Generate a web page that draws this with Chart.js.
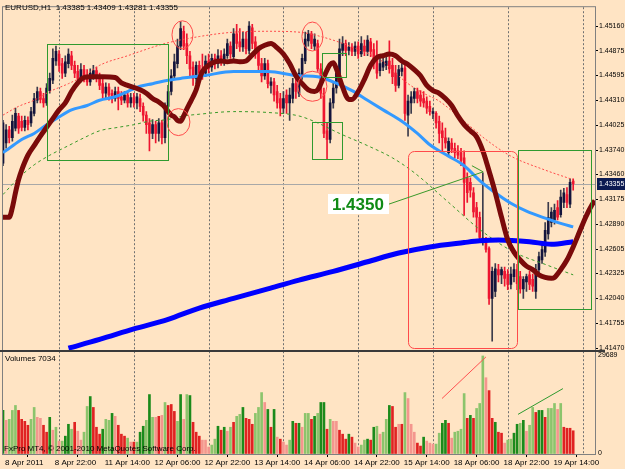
<!DOCTYPE html>
<html>
<head>
<meta charset="utf-8">
<title>EURUSD,H1</title>
<script src="https://cdn.jsdelivr.net/npm/chart.js"></script>
<style>
  html, body { margin: 0; padding: 0; background: #ffe4c4; }
</style>
</head>
<body>
<canvas id="chart" width="625" height="469"></canvas>
<script>
// H1 bars from 8 Apr 2011 06:00, one row per bar: [open, high, low, close]
const bars8Apr = [
  [1.4359,1.4408,1.4356,1.4405],[1.4382,1.4403,1.4376,1.4397],[1.4397,1.4401,1.4382,1.4388],
  [1.4388,1.4414,1.4384,1.4407],[1.4399,1.4422,1.4396,1.4416],[1.4413,1.4416,1.4393,1.4399],
  [1.4407,1.4413,1.4396,1.4400],[1.4400,1.4413,1.4396,1.4408],[1.4408,1.4412,1.4397,1.4403],
  [1.4405,1.4423,1.4401,1.4418],[1.4416,1.4439,1.4413,1.4433],[1.4431,1.4446,1.4428,1.4441],
  [1.4441,1.4445,1.4428,1.4432],[1.4433,1.4439,1.4423,1.4428],[1.4428,1.4450,1.4425,1.4445],
  [1.4442,1.4462,1.4439,1.4456],[1.4454,1.4490,1.4450,1.4479],[1.4476,1.4493,1.4471,1.4487]
];
const bars11Apr = [
  [1.4484,1.4488,1.4464,1.4471],[1.4473,1.4479,1.4456,1.4462],[1.4462,1.4482,1.4458,1.4475],
  [1.4473,1.4490,1.4468,1.4484],[1.4482,1.4487,1.4466,1.4471],[1.4471,1.4476,1.4457,1.4462],
  [1.4464,1.4471,1.4450,1.4456],[1.4456,1.4473,1.4452,1.4466],[1.4466,1.4471,1.4452,1.4459],
  [1.4459,1.4466,1.4448,1.4452],[1.4452,1.4467,1.4448,1.4462],[1.4459,1.4471,1.4455,1.4465],
  [1.4465,1.4469,1.4452,1.4457],[1.4457,1.4462,1.4443,1.4448],[1.4450,1.4455,1.4433,1.4439],
  [1.4439,1.4451,1.4433,1.4446],[1.4446,1.4450,1.4431,1.4437],[1.4439,1.4443,1.4428,1.4433],
  [1.4433,1.4446,1.4430,1.4441],[1.4441,1.4446,1.4420,1.4433],[1.4435,1.4441,1.4426,1.4431],
  [1.4431,1.4441,1.4428,1.4437],[1.4437,1.4441,1.4423,1.4428],[1.4428,1.4439,1.4423,1.4434]
];
const bars12Apr = [
  [1.4434,1.4439,1.4423,1.4428],[1.4428,1.4439,1.4421,1.4435],[1.4433,1.4438,1.4418,1.4424],
  [1.4424,1.4428,1.4407,1.4414],[1.4414,1.4418,1.4393,1.4403],[1.4405,1.4410,1.4373,1.4393],
  [1.4393,1.4409,1.4387,1.4403],[1.4403,1.4407,1.4382,1.4393],[1.4393,1.4410,1.4384,1.4405],
  [1.4405,1.4408,1.4381,1.4388],[1.4388,1.4428,1.4382,1.4424],[1.4424,1.4448,1.4418,1.4441],
  [1.4441,1.4466,1.4437,1.4459],[1.4459,1.4484,1.4455,1.4475],[1.4473,1.4501,1.4468,1.4493],
  [1.4493,1.4521,1.4489,1.4513],[1.4510,1.4516,1.4489,1.4493],[1.4496,1.4507,1.4473,1.4482],
  [1.4482,1.4487,1.4459,1.4467],[1.4469,1.4475,1.4448,1.4456],[1.4456,1.4475,1.4450,1.4471],
  [1.4471,1.4476,1.4455,1.4462],[1.4466,1.4484,1.4455,1.4459],[1.4462,1.4482,1.4458,1.4476]
];
const bars13Apr = [
  [1.4476,1.4484,1.4462,1.4469],[1.4469,1.4484,1.4464,1.4479],[1.4479,1.4484,1.4467,1.4473],
  [1.4473,1.4489,1.4468,1.4482],[1.4482,1.4488,1.4471,1.4475],[1.4475,1.4490,1.4471,1.4484],
  [1.4482,1.4501,1.4479,1.4496],[1.4493,1.4498,1.4479,1.4484],[1.4481,1.4513,1.4477,1.4507],
  [1.4507,1.4518,1.4490,1.4496],[1.4498,1.4513,1.4487,1.4492],[1.4492,1.4509,1.4487,1.4501],
  [1.4501,1.4509,1.4484,1.4490],[1.4488,1.4521,1.4484,1.4516],[1.4514,1.4518,1.4490,1.4496],
  [1.4498,1.4504,1.4479,1.4484],[1.4487,1.4493,1.4464,1.4471],[1.4473,1.4479,1.4452,1.4459],
  [1.4459,1.4479,1.4455,1.4473],[1.4473,1.4477,1.4445,1.4450],[1.4448,1.4457,1.4439,1.4452],
  [1.4452,1.4456,1.4430,1.4437],[1.4441,1.4448,1.4422,1.4428],[1.4433,1.4439,1.4413,1.4422]
];
const bars14Apr = [
  [1.4422,1.4441,1.4416,1.4433],[1.4437,1.4443,1.4416,1.4428],[1.4428,1.4445,1.4408,1.4437],
  [1.4433,1.4456,1.4428,1.4450],[1.4450,1.4456,1.4433,1.4441],[1.4439,1.4467,1.4435,1.4462],
  [1.4459,1.4484,1.4455,1.4479],[1.4476,1.4509,1.4473,1.4501],[1.4499,1.4511,1.4493,1.4507],
  [1.4507,1.4510,1.4490,1.4496],[1.4493,1.4507,1.4489,1.4501],[1.4496,1.4500,1.4464,1.4467],
  [1.4467,1.4473,1.4433,1.4439],[1.4439,1.4445,1.4388,1.4393],[1.4396,1.4405,1.4363,1.4386],
  [1.4386,1.4433,1.4382,1.4428],[1.4428,1.4452,1.4422,1.4445],[1.4445,1.4469,1.4439,1.4462],
  [1.4459,1.4501,1.4456,1.4490],[1.4488,1.4504,1.4482,1.4496],[1.4496,1.4500,1.4482,1.4488],
  [1.4488,1.4497,1.4483,1.4492],[1.4492,1.4496,1.4482,1.4487],[1.4487,1.4498,1.4482,1.4493]
];
const bars15Apr = [
  [1.4493,1.4498,1.4479,1.4484],[1.4484,1.4504,1.4481,1.4496],[1.4493,1.4500,1.4482,1.4487],
  [1.4487,1.4505,1.4482,1.4500],[1.4498,1.4502,1.4481,1.4487],[1.4489,1.4496,1.4467,1.4476],
  [1.4479,1.4499,1.4456,1.4462],[1.4465,1.4479,1.4459,1.4473],[1.4469,1.4480,1.4465,1.4475],
  [1.4471,1.4482,1.4466,1.4476],[1.4476,1.4499,1.4462,1.4467],[1.4471,1.4479,1.4450,1.4458],
  [1.4462,1.4471,1.4441,1.4448],[1.4448,1.4471,1.4445,1.4466],[1.4464,1.4473,1.4459,1.4468],
  [1.4468,1.4473,1.4408,1.4416],[1.4414,1.4437,1.4390,1.4430],[1.4428,1.4441,1.4416,1.4435],
  [1.4433,1.4445,1.4428,1.4441],[1.4441,1.4445,1.4428,1.4433],[1.4437,1.4442,1.4424,1.4430],
  [1.4433,1.4441,1.4423,1.4428],[1.4430,1.4435,1.4416,1.4422],[1.4424,1.4430,1.4414,1.4418]
];
const bars18Apr = [
  [1.4416,1.4422,1.4410,1.4418],[1.4416,1.4418,1.4399,1.4405],[1.4407,1.4413,1.4382,1.4393],
  [1.4396,1.4405,1.4371,1.4388],[1.4388,1.4399,1.4376,1.4382],[1.4371,1.4388,1.4367,1.4384],
  [1.4382,1.4387,1.4371,1.4375],[1.4376,1.4382,1.4365,1.4371],[1.4373,1.4379,1.4364,1.4368],
  [1.4371,1.4376,1.4356,1.4362],[1.4365,1.4373,1.4299,1.4337],[1.4342,1.4348,1.4314,1.4325],
  [1.4337,1.4342,1.4320,1.4328],[1.4325,1.4331,1.4297,1.4303],[1.4308,1.4314,1.4280,1.4297],
  [1.4297,1.4303,1.4269,1.4274],[1.4269,1.4348,1.4265,1.4273],[1.4269,1.4274,1.4257,1.4260],
  [1.4261,1.4263,1.4197,1.4204],[1.4204,1.4240,1.4155,1.4235],[1.4212,1.4244,1.4206,1.4238],
  [1.4237,1.4243,1.4223,1.4231],[1.4231,1.4240,1.4221,1.4237],[1.4235,1.4240,1.4218,1.4227]
];
const bars19Apr = [
  [1.4232,1.4237,1.4214,1.4220],[1.4220,1.4240,1.4215,1.4232],[1.4229,1.4244,1.4223,1.4237],
  [1.4237,1.4243,1.4214,1.4221],[1.4229,1.4235,1.4210,1.4215],[1.4215,1.4229,1.4204,1.4226],
  [1.4223,1.4232,1.4212,1.4229],[1.4231,1.4235,1.4214,1.4220],[1.4226,1.4232,1.4212,1.4218],
  [1.4212,1.4243,1.4204,1.4237],[1.4237,1.4257,1.4232,1.4252],[1.4248,1.4265,1.4244,1.4260],
  [1.4257,1.4291,1.4252,1.4282],[1.4278,1.4314,1.4272,1.4297],[1.4291,1.4308,1.4286,1.4303],
  [1.4294,1.4312,1.4289,1.4305],[1.4308,1.4316,1.4294,1.4297],[1.4300,1.4328,1.4297,1.4320],
  [1.4314,1.4330,1.4308,1.4325],[1.4323,1.4331,1.4308,1.4314],[1.4312,1.4341,1.4308,1.4337],
  [1.43385,1.43409,1.43281,1.43355]
];

// tick volume per bar, and its colour class (g up, l up weak, r down, p down weak)
const volumes = [
  13200,10200,10500,13200,14700,13200,10500,9900,8700,10500,14100,11100,10800,8700,6600,11100,7200,8100,
  3900,3900,5400,9000,7500,9600,6900,4200,6600,14400,17400,14100,8100,6000,7500,10500,10200,12300,11400,8700,6000,5400,4800,3600,
  3600,3600,6600,8400,10200,18000,11100,11100,11400,11700,15600,14700,15000,12900,9900,18000,10500,18000,17700,9600,6600,5400,4200,4200,
  2100,2700,4500,8400,7200,8100,6900,8100,9600,11400,12000,14100,10800,10500,9000,12300,14100,18600,15600,13500,8100,13500,5100,4500,
  3600,2700,4200,9900,9300,9300,8100,12300,12300,10500,11400,12300,15600,15600,7500,10500,9900,9900,7200,6000,4500,6000,5100,3300,
  2100,2700,4200,4500,4200,8100,8400,6000,6600,10500,14700,14400,8100,9000,9000,18600,16800,9000,6600,3300,2400,5100,3900,3300,
  3000,3000,6300,9300,10200,9300,4800,6600,6900,7500,18300,10800,11700,10800,13800,15300,29689,23100,19200,10800,9600,6600,6300,3300,
  4200,4500,6300,9000,9300,10200,6900,8700,14100,12600,13200,13200,11100,13800,13800,15300,13500,15300,8100,7800,7800,7034
];
const volumeKind =
  'gplllrrrrllpprrgpl' +
  'plgglrppllgrrrgllgprrrlp' +
  'rlgglglprplrrrlgplgrrrpp' +
  'pllgrgplrllgrrrlllpgrgpr' +
  'pplgrgpllrglggrlpprrrgrp' +
  'pllgrglpllgrrprlppprrgpp' +
  'pllggrpllllrgrlllprrgrrp' +
  'llgglgpllrggrlllplrrrr';

// indicator lines: [bar index, price]
const maFast = [
  [0,1.4297],[2,1.4297],[3,1.4308],[4,1.4325],[5,1.4340],[6,1.4351],[8,1.4368],[10,1.4379],
  [12,1.4390],[14,1.4400],[16,1.4410],[18,1.4420],[20,1.4428],[22,1.4441],[24,1.4451],[26,1.4457],
  [28,1.4458],[32,1.4458],[36,1.4457],[38,1.4451],[40,1.4448],[44,1.4443],[46,1.4439],[48,1.4433],
  [50,1.4429],[52,1.4423],[53,1.4418],[54,1.4414],[55,1.4412],[56,1.4408],[57,1.4407],[58,1.4413],
  [59,1.4421],[60,1.4428],[61,1.4435],[62,1.4443],[63,1.4455],[64,1.4464],[66,1.4471],[68,1.4475],
  [70,1.4476],[72,1.4475],[74,1.4476],[76,1.4475],[78,1.4476],[80,1.4483],[82,1.4490],[84,1.4494],
  [86,1.4496],[88,1.4491],[90,1.4484],[92,1.4473],[94,1.4459],[96,1.4450],[98,1.4443],[100,1.4441],
  [101,1.4443],[103,1.4458],[105,1.4472],[106,1.4474],[107,1.4467],[109,1.4446],[111,1.4432],[112,1.4432],
  [114,1.4441],[116,1.4455],[118,1.4471],[120,1.4480],[122,1.4482],[124,1.4484],[126,1.4482],[128,1.4476],
  [130,1.4472],[132,1.4466],[134,1.4459],[136,1.4448],[138,1.4442],[140,1.4439],[142,1.4433],[144,1.4425],
  [146,1.4413],[148,1.4403],[150,1.4396],[152,1.4389],[154,1.4373],[155,1.4362],[156,1.4350],[158,1.4325],
  [160,1.4297],[162,1.4271],[164,1.4257],[166,1.4248],[168,1.4241],[170,1.4237],[172,1.4231],[174,1.4228],
  [176,1.4227],[177,1.4228],[179,1.4237],[181,1.4248],[183,1.4263],[185,1.4280],[187,1.4297],[189,1.4311],
  [190,1.4316]
];
const maMid = [
  [0,1.4371],[2,1.4376],[6,1.4386],[10,1.4393],[14,1.4403],[18,1.4412],[22,1.4420],[27,1.4425],
  [31,1.4431],[36,1.4435],[40,1.4441],[44,1.4447],[48,1.4450],[53,1.4454],[57,1.4456],[61,1.4458],
  [64,1.4459],[74,1.4464],[85,1.4464],[95,1.4459],[101,1.4458],[106,1.4452],[112,1.4442],[117,1.4431],
  [122,1.4420],[128,1.4407],[133,1.4393],[137,1.4380],[143,1.4367],[148,1.4356],[153,1.4339],[158,1.4325],
  [163,1.4313],[168,1.4304],[174,1.4296],[179,1.4290],[183,1.4286]
];
const maSlow = [
  [21,1.4147],[31,1.4157],[42,1.4169],[53,1.4180],[63,1.4193],[74,1.4204],[85,1.4215],[95,1.4225],
  [106,1.4235],[117,1.4246],[127,1.4256],[137,1.4263],[148,1.4268],[153,1.4270],[159,1.4271],
  [169,1.4269],[176,1.4266],[183,1.4269]
];
const envUpper = [
  [0,1.4414],[5,1.4424],[10,1.4431],[15,1.4441],[21,1.4450],[26,1.4459],[31,1.4471],[40,1.4482],
  [52,1.4496],[63,1.4504],[74,1.4509],[85,1.4510],[95,1.4509],[102,1.4504],[112,1.4492],[122,1.4475],
  [126,1.4462],[130,1.4450],[135,1.4439],[140,1.4430],[145,1.4416],[150,1.4401],[155,1.4386],
  [163,1.4367],[174,1.4351],[183,1.4340]
];
const envLower = [
  [0,1.4323],[5,1.4342],[10,1.4357],[15,1.4368],[21,1.4379],[26,1.4388],[31,1.4396],[37,1.4400],
  [42,1.4403],[47,1.4407],[53,1.4409],[58,1.4413],[63,1.4415],[74,1.4418],[85,1.4417],[95,1.4413],
  [101,1.4405],[108,1.4393],[117,1.4379],[125,1.4365],[132,1.4348],[143,1.4314],[153,1.4283],
  [164,1.4257],[174,1.4243],[183,1.4231]
];

// axis text
const timeTicks = [0, 16, 32, 48, 64, 80, 96, 112, 128, 144, 160, 176];
const timeLabels = ['8 Apr 2011', '8 Apr 22:00', '11 Apr 14:00', '12 Apr 06:00', '12 Apr 22:00', '13 Apr 14:00',
  '14 Apr 06:00', '14 Apr 22:00', '15 Apr 14:00', '18 Apr 06:00', '18 Apr 22:00', '19 Apr 14:00'];
const dayStarts = [18, 42, 66, 90, 114, 138, 162, 186];
const priceTicks = [1.45160, 1.44875, 1.44595, 1.44310, 1.44025, 1.43740, 1.43460,
  1.43175, 1.42890, 1.42605, 1.42325, 1.42040, 1.41755, 1.41470];
const volumeTicks = [0, 29689];

// hand drawn objects on the chart (bar index, price)
const greenBoxes = [[14.1, 1.4496, 53, 1.4363], [102.4, 1.4485, 110.1, 1.4457],
  [99.2, 1.4406, 108.8, 1.4364], [165.3, 1.4374, 188.7, 1.4192]];
const redRings = [[57.6, 1.4506, 10.5, 14], [56.3, 1.4406, 11.5, 13.5],
  [99.3, 1.4504, 10.5, 14.5], [99.3, 1.4447, 14.5, 15]];
const redZone = [130, 1.4373, 165, 1.4147];
const levelNote = { at: [113.9, 1.4312], text: '1.4350', to: [154.1, 1.4349], from2: [150.5, 1.4356] };
const volumeTrendRed = [[140.9, 16800], [155, 29400]];
const volumeTrendGreen = [[165.3, 12000], [179.7, 19800]];

const candles = [].concat(bars8Apr, bars11Apr, bars12Apr, bars13Apr, bars14Apr, bars15Apr, bars18Apr, bars19Apr);
const last = candles[candles.length - 1];
const FONT = "'Liberation Sans', Arial, sans-serif";
const BULL = '#14143c', BEAR = '#ee1530';
const volColors = { g: '#1b8a1b', l: '#8cc46c', r: '#e02222', p: '#f4968e' };

const pts = arr => arr.map(([x, y]) => ({ x, y }));

function lineSet(data, color, width, dash, order) {
  return {
    type: 'line', data: pts(data), borderColor: color, borderWidth: width, borderDash: dash,
    pointRadius: 0, cubicInterpolationMode: 'monotone', yAxisID: 'y', order: order
  };
}

// keep each dataset inside its own pane
const paneClip = {
  id: 'paneClip',
  beforeDatasetDraw(chart, args) {
    const s = chart.scales[args.meta.yAxisID], a = chart.chartArea, ctx = chart.ctx;
    ctx.save();
    ctx.beginPath();
    ctx.rect(a.left, s.top, a.right - a.left, s.bottom - s.top);
    ctx.clip();
  },
  afterDatasetDraw(chart) { chart.ctx.restore(); }
};

const terminal = {
  id: 'terminal',
  beforeDraw(chart) {
    const ctx = chart.ctx;
    ctx.save();
    ctx.fillStyle = '#ffe4c4';
    ctx.fillRect(0, 0, chart.width, chart.height);
    ctx.restore();
  },
  beforeDatasetsDraw(chart) {
    const { ctx, chartArea: a, scales: { x, y } } = chart;
    ctx.save();
    ctx.strokeStyle = '#707070';
    ctx.lineWidth = 1;
    ctx.setLineDash([2, 2]);
    dayStarts.forEach(i => {
      const px = Math.round(x.getPixelForValue(i)) + 0.5;
      ctx.beginPath();
      ctx.moveTo(px, a.top);
      ctx.lineTo(px, a.bottom);
      ctx.stroke();
    });
    ctx.setLineDash([]);
    ctx.strokeStyle = '#a8a8a8';
    const py = Math.round(y.getPixelForValue(last[3])) + 0.5;
    ctx.beginPath();
    ctx.moveTo(a.left, py);
    ctx.lineTo(a.right, py);
    ctx.stroke();
    ctx.restore();
  },
  afterDatasetsDraw(chart) {
    const { ctx, chartArea: a, scales: { x, y, yv } } = chart;
    const X = i => x.getPixelForValue(i), Y = p => y.getPixelForValue(p), V = v => yv.getPixelForValue(v);
    ctx.save();
    ctx.lineWidth = 1;

    ctx.strokeStyle = '#2f9a2f';
    greenBoxes.forEach(([i1, p1, i2, p2]) => {
      const l = Math.round(X(i1)) + 0.5, t = Math.round(Y(p1)) + 0.5;
      ctx.strokeRect(l, t, Math.round(X(i2) - X(i1)), Math.round(Y(p2) - Y(p1)));
    });

    ctx.strokeStyle = '#ff4a4a';
    redRings.forEach(([i, p, rx, ry]) => {
      ctx.beginPath();
      ctx.ellipse(X(i), Y(p), rx, ry, 0, 0, Math.PI * 2);
      ctx.stroke();
    });
    ctx.beginPath();
    ctx.roundRect(Math.round(X(redZone[0])) + 0.5, Math.round(Y(redZone[1])) + 0.5,
      Math.round(X(redZone[2]) - X(redZone[0])), Math.round(Y(redZone[3]) - Y(redZone[1])), 6);
    ctx.stroke();

    // level note with its pointer
    const cx = X(levelNote.at[0]), cy = Y(levelNote.at[1]);
    ctx.strokeStyle = '#3a9a2a';
    ctx.beginPath();
    ctx.moveTo(cx + 31, cy);
    ctx.lineTo(X(levelNote.to[0]), Y(levelNote.to[1]));
    ctx.lineTo(X(levelNote.from2[0]), Y(levelNote.from2[1]));
    ctx.stroke();
    ctx.fillStyle = '#ffffff';
    ctx.fillRect(Math.round(cx - 30), Math.round(cy - 10), 61, 20);
    ctx.fillStyle = '#0f8a14';
    ctx.font = "bold 17px 'Liberation Sans', Arial, sans-serif";
    ctx.textAlign = 'center';
    ctx.textBaseline = 'middle';
    ctx.fillText(levelNote.text, cx, cy + 1);

    // trend lines in the volume pane
    ctx.strokeStyle = '#ff5050';
    ctx.beginPath();
    ctx.moveTo(X(volumeTrendRed[0][0]), V(volumeTrendRed[0][1]));
    ctx.lineTo(X(volumeTrendRed[1][0]), V(volumeTrendRed[1][1]));
    ctx.stroke();
    ctx.strokeStyle = '#2f9a2f';
    ctx.beginPath();
    ctx.moveTo(X(volumeTrendGreen[0][0]), V(volumeTrendGreen[0][1]));
    ctx.lineTo(X(volumeTrendGreen[1][0]), V(volumeTrendGreen[1][1]));
    ctx.stroke();

    // frame and pane separator
    ctx.strokeStyle = '#808080';
    ctx.strokeRect(a.left - 0.5, a.top - 0.5, a.right - a.left + 1, a.bottom - a.top + 1);
    ctx.strokeStyle = '#3a3a3a';
    ctx.lineWidth = 2;
    ctx.beginPath();
    ctx.moveTo(0, y.bottom);
    ctx.lineTo(a.right + 10, y.bottom);
    ctx.stroke();
    ctx.restore();
  },
  afterDraw(chart) {
    const { ctx, chartArea: a, scales: { y } } = chart;
    ctx.save();
    ctx.fillStyle = '#000000';
    ctx.font = '8px ' + FONT;
    ctx.textBaseline = 'middle';
    ctx.fillText('EURUSD,H1  ' + last.map(v => v.toFixed(5)).join(' '), a.left + 2, 8);
    ctx.fillText('Volumes ' + volumes[volumes.length - 1], a.left + 2, y.bottom + 8);
    ctx.fillText('FxPro MT4, \u00a9 2001-2010 MetaQuotes Software Corp.', a.left + 1, a.bottom - 5);
    const py = Math.round(y.getPixelForValue(last[3]));
    ctx.fillStyle = '#0b1a52';
    ctx.fillRect(a.right + 2, py - 6, 30, 12);
    ctx.fillStyle = '#ffffff';
    ctx.font = '7px ' + FONT;
    ctx.fillText(last[3].toFixed(5), a.right + 4, py);
    ctx.restore();
  }
};

new Chart(document.getElementById('chart'), {
  type: 'line',
  data: {
    datasets: [
      lineSet(maFast, '#7a0a0a', 5, [], 0),
      lineSet(maMid, '#3399ff', 3, [], 1),
      lineSet(maSlow, '#0000ff', 5, [], 2),
      lineSet(envUpper, '#ff4a4a', 1, [2, 2], 3),
      lineSet(envLower, '#3a9a2a', 1, [3, 3], 3),
      {
        type: 'bar', data: candles.map((c, i) => ({ x: i, y: [c[2], c[1]] })),
        backgroundColor: candles.map(c => c[3] >= c[0] ? '#3c3c4c' : BEAR),
        barThickness: 1, grouped: false, yAxisID: 'y', order: 6
      },
      {
        type: 'bar', data: candles.map((c, i) => ({ x: i, y: [c[0], c[3]] })),
        backgroundColor: candles.map(c => c[3] >= c[0] ? BULL : BEAR),
        barThickness: 2, minBarLength: 1, grouped: false, yAxisID: 'y', order: 5
      },
      {
        type: 'bar', data: volumes.map((v, i) => ({ x: i, y: v })),
        backgroundColor: volumeKind.split('').map(k => volColors[k]),
        barThickness: 2, grouped: false, yAxisID: 'yv', order: 5
      }
    ]
  },
  options: {
    responsive: false,
    animation: false,
    layout: { padding: { left: 3, top: 3, right: 0, bottom: 0 } },
    plugins: { legend: { display: false }, tooltip: { enabled: false } },
    scales: {
      x: {
        type: 'linear', min: 0, max: 190, offset: false, position: 'bottom',
        afterBuildTicks: s => { s.ticks = timeTicks.map(v => ({ value: v })); },
        afterFit: s => { s.height = 15; },
        ticks: {
          autoSkip: false, maxRotation: 0, align: 'start', labelOffset: 2, padding: 1,
          color: '#000', font: { family: FONT, size: 8 },
          callback: v => timeLabels[timeTicks.indexOf(v)]
        },
        grid: { drawOnChartArea: false, drawTicks: true, tickLength: 3, color: '#000' },
        border: { color: '#808080' }
      },
      y: {
        type: 'linear', position: 'right', stack: 'panes', stackWeight: 347,
        min: 1.41438, max: 1.45376,
        afterBuildTicks: s => { s.ticks = priceTicks.map(v => ({ value: v })); },
        afterFit: s => { s.width = 30; },
        ticks: { color: '#000', padding: 1, font: { family: FONT, size: 7 }, callback: v => v.toFixed(5) },
        grid: { drawOnChartArea: false, drawTicks: true, tickLength: 3, color: '#000' },
        border: { color: '#808080' }
      },
      yv: {
        type: 'linear', position: 'right', stack: 'panes', stackWeight: 104,
        min: 0, max: 31200,
        afterBuildTicks: s => { s.ticks = volumeTicks.map(v => ({ value: v })); },
        afterFit: s => { s.width = 30; },
        ticks: { color: '#000', padding: 3, labelOffset: -1, font: { family: FONT, size: 7 }, callback: v => String(v) },
        grid: { drawOnChartArea: false, drawTicks: false },
        border: { color: '#808080' }
      }
    }
  },
  plugins: [paneClip, terminal]
});
</script>
</body>
</html>
